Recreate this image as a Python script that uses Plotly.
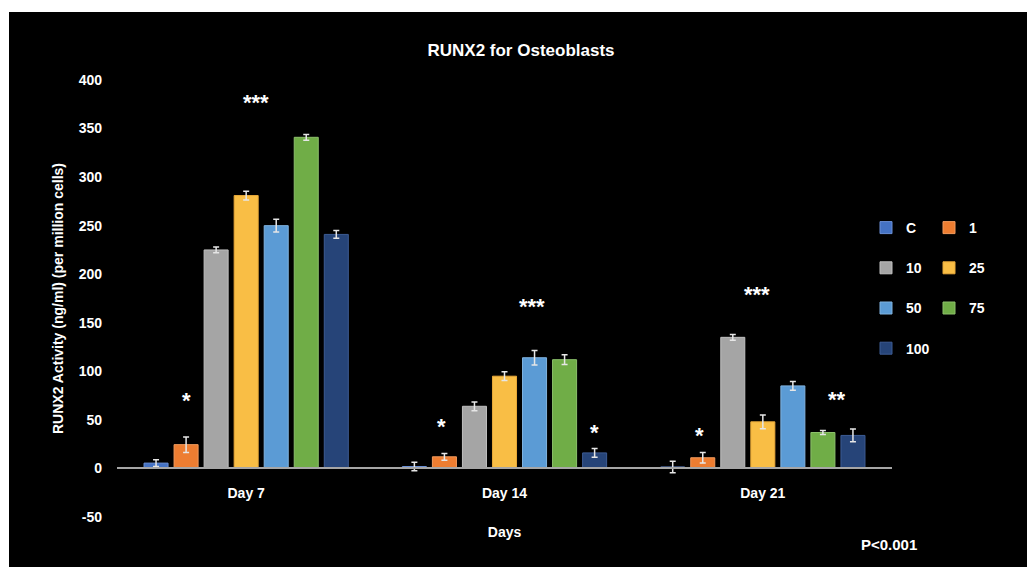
import plotly.graph_objects as go

# ---- data -------------------------------------------------------------
days = ["Day 7", "Day 14", "Day 21"]
groups = ["C", "1", "10", "25", "50", "75", "100"]

val_c = [5.5, 2, 1.5]
val_1 = [24.5, 12, 11]
val_10 = [225, 64, 135]
val_25 = [281, 95, 48]
val_50 = [250, 114, 85]
val_75 = [341, 112, 37]
val_100 = [241, 16, 34]

err_c = [3.5, 4.5, 6]
err_1 = [8, 3.5, 5.5]
err_10 = [3, 4.5, 3]
err_25 = [4.5, 4.5, 7]
err_50 = [6.5, 7.5, 4.5]
err_75 = [3, 5, 2]
err_100 = [4, 4.5, 6.5]

values = [val_c, val_1, val_10, val_25, val_50, val_75, val_100]
errors = [err_c, err_1, err_10, err_25, err_50, err_75, err_100]

# significance markers: day index, bar slot (0..6, fractional = nudged), level, text
sig_day = [0, 0, 1, 1, 1, 2, 2, 2]
sig_slot = [1, 3.33, 0.9, 3.93, 6, 0.9, 2.8, 5.48]
sig_level = [72, 378.5, 45.6, 169, 38.7, 36, 181, 72.7]
sig_text = ["*", "***", "*", "***", "*", "*", "***", "**"]

y_ticks = [-50, 0, 50, 100, 150, 200, 250, 300, 350, 400]
y_tick_labels = [str(v) for v in y_ticks]

# ---- style ------------------------------------------------------------
colors = ["#4472C4", "#ED7D31", "#A5A5A5", "#F9BE45", "#5B9BD5", "#70AD47", "#264478"]
edge = ["#6a8fd6", "#f29a5c", "#c0c0c0", "#e8a93a", "#80b3e0", "#8cc06b", "#3d5c94"]
FONT = "Liberation Sans, Arial, sans-serif"
BARGAP = 0.186
YMIN, YMAX = -50, 400

W, H = 1027, 567
ML, MR, MT, MB = 117, 135, 80, 50
PW, PH = W - ML - MR, H - MT - MB


def px_x(px):
    return (px - ML) / PW


def px_y(py):
    return (H - MB - py) / PH


fig = go.Figure()

legend_of = ["legend", "legend2", "legend", "legend2", "legend", "legend2", "legend"]
for i, name in enumerate(groups):
    fig.add_trace(go.Bar(
        x=days, y=values[i], name=name,
        marker=dict(color=colors[i], line=dict(color=edge[i], width=1)),
        error_y=dict(type="data", array=errors[i], visible=True,
                     color="#e6e6e6", thickness=1.5, width=3),
        legend=legend_of[i], legendgroup=name,
    ))

slot_w = (1 - BARGAP) / len(groups)
for d, s, lvl, t in zip(sig_day, sig_slot, sig_level, sig_text):
    fig.add_annotation(
        x=d + (s - 3) * slot_w, y=lvl, xref="x", yref="y", text=t,
        showarrow=False, yshift=-2,
        font=dict(family=FONT, size=22, color="white", weight="bold"),
    )

fig.add_annotation(
    x=px_x(889), y=px_y(544), xref="paper", yref="paper", text="P<0.001",
    xanchor="center", yanchor="middle", showarrow=False,
    font=dict(family=FONT, size=15, color="white", weight="bold"),
)

# dark panel with a thin white strip at the top and left
fig.add_shape(type="rect", xref="paper", yref="paper", layer="below",
              x0=px_x(9), x1=px_x(W + 20), y0=px_y(H + 20), y1=px_y(12),
              fillcolor="black", line=dict(width=0))

legend_common = dict(
    orientation="v", xanchor="left", yanchor="top", bgcolor="rgba(0,0,0,0)",
    font=dict(family=FONT, size=14, color="white", weight="bold"),
    tracegroupgap=19, itemclick=False,
)

fig.update_layout(
    width=W, height=H,
    margin=dict(l=ML, r=MR, t=MT, b=MB, autoexpand=False),
    paper_bgcolor="white", plot_bgcolor="rgba(0,0,0,0)",
    barmode="group", bargap=BARGAP, bargroupgap=0.2,
    title=dict(text="RUNX2 for Osteoblasts", x=px_x(521), xref="paper",
               y=1 - 50 / H, yanchor="middle", xanchor="center",
               font=dict(family=FONT, size=17, color="white", weight="bold")),
    legend=dict(x=px_x(866), y=px_y(212), **legend_common),
    legend2=dict(x=px_x(929), y=px_y(212), **legend_common),
    xaxis=dict(
        type="category", anchor="free", position=(0 - YMIN) / (YMAX - YMIN),
        showline=True, linecolor="#a6a6a6", linewidth=2, showgrid=False,
        ticks="", ticklabelstandoff=12,
        tickfont=dict(family=FONT, size=14, color="white", weight="bold"),
        title=dict(text="Days", standoff=26,
                   font=dict(family=FONT, size=14, color="white", weight="bold")),
    ),
    yaxis=dict(
        range=[YMIN, YMAX], tickvals=y_ticks, ticktext=y_tick_labels,
        showgrid=False, zeroline=False,
        showline=False, ticks="", ticklabelstandoff=14,
        tickfont=dict(family=FONT, size=14, color="white", weight="bold"),
        title=dict(text="RUNX2 Activity (ng/ml) (per million cells)", standoff=11,
                   font=dict(family=FONT, size=14, color="white", weight="bold")),
    ),
    showlegend=True,
)

fig.write_html("out.html")
